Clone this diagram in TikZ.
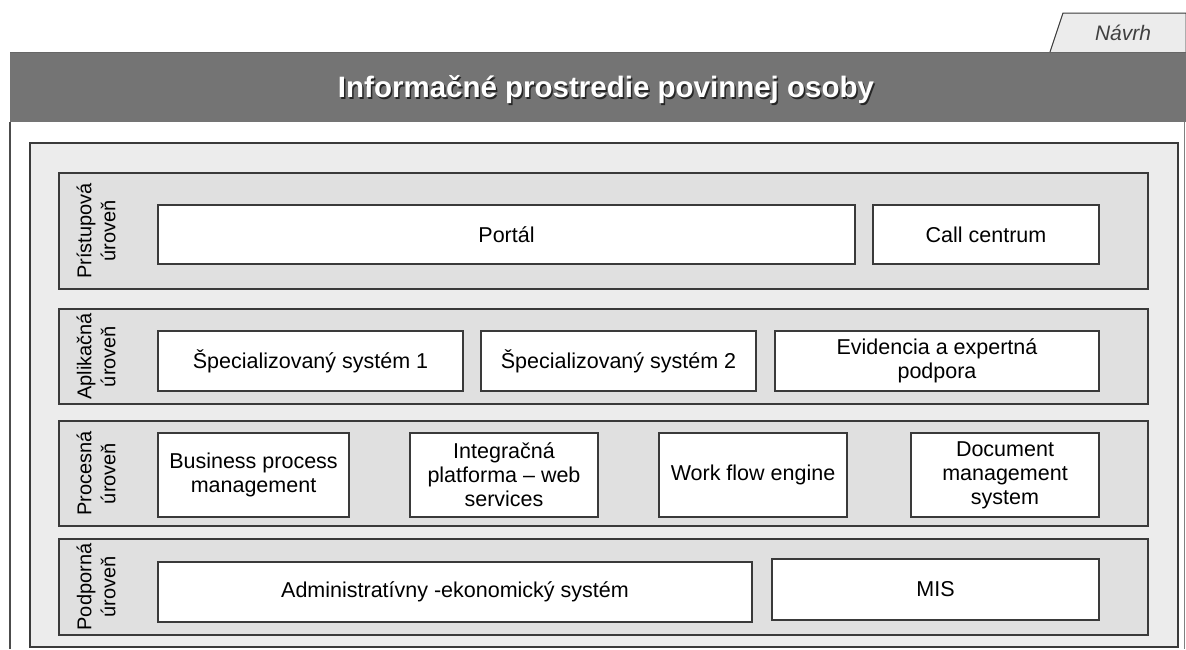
\documentclass[tikz,border=0pt]{standalone}
\usepackage{fontspec}
\setmainfont{Liberation Sans}
\usepackage{tikz}
\usetikzlibrary{positioning}

\definecolor{barfill}{HTML}{747474}
\definecolor{outerfill}{HTML}{ECECEC}
\definecolor{layerfill}{HTML}{E0E0E0}
\definecolor{edge}{HTML}{3A3A3A}

\begin{document}
\begin{tikzpicture}[x=1pt,y=-1pt,
  layer/.style={draw=edge, fill=layerfill, line width=1.1pt, inner sep=0pt},
  box/.style={draw=edge, fill=white, line width=1.1pt, inner sep=2pt, align=center,
    text=black, font=\fontsize{21.5}{24}\selectfont},
  lbl/.style={rotate=90, align=center, text=black, font=\fontsize{20}{24}\selectfont}]

  \useasboundingbox (0,0) rectangle (1186,649);

  % tab and header bar
  \draw[draw=edge, fill=outerfill, line width=1pt] (1050,52) -- (1063,13) -- (1186,13) -- (1186,52);
  \node (navrh) at (1123,33) {\fontsize{21}{24}\selectfont\itshape\color{black!75}Návrh};
  \fill[barfill] (10,52) rectangle (1186,122);
  \draw[black!60, line width=1pt] (10,52) -- (1186,52);
  \node[text=black!85] (titleshadow) at (607.5,91.5) {\fontsize{29.5}{32}\selectfont\bfseries Informačné prostredie povinnej osoby};
  \node[text=white] (title) at (606,90) {\fontsize{29.5}{32}\selectfont\bfseries Informačné prostredie povinnej osoby};

  % white panel and gray frame
  \draw[black!70, line width=1.2pt] (10,122) -- (10,649);
  \draw[black!50, line width=0.8pt] (1184,122) -- (1184,649);
  \draw[draw=edge, fill=outerfill, line width=1.2pt] (30,143) rectangle (1178,647);

  % layers
  \node[layer, minimum width=1089pt, minimum height=116pt] (pristup) at (603.5,231) {};
  \node[layer, minimum width=1089pt, minimum height=95pt] (aplik) at (603.5,356.5) {};
  \node[layer, minimum width=1089pt, minimum height=105pt] (proces) at (603.5,473.5) {};
  \node[layer, minimum width=1089pt, minimum height=96pt] (podpor) at (603.5,587) {};

  \node[lbl] (pristuplbl) at (96,231) {Prístupová\\úroveň};
  \node[lbl] (apliklbl) at (96,356.5) {Aplikačná\\úroveň};
  \node[lbl] (proceslbl) at (96,473.5) {Procesná\\úroveň};
  \node[lbl] (podporlbl) at (96,587) {Podporná\\úroveň};

  % pristupova uroven
  \node[box, minimum width=697pt, minimum height=59pt] (portal) at (506.5,234.5) {Portál};
  \node[box, minimum width=226pt, minimum height=59pt] (callc) at (986,234.5) {Call centrum};

  % aplikacna uroven
  \node[box, minimum width=305pt, minimum height=60pt] (spec1) at (310.5,361) {Špecializovaný systém 1};
  \node[box, minimum width=275pt, minimum height=60pt] (spec2) at (618.5,361) {Špecializovaný systém 2};
  \node[box, minimum width=324pt, minimum height=60pt] (evid) at (937,361) {Evidencia a expertná\\podpora};

  % procesna uroven
  \node[box, minimum width=191pt, minimum height=84pt] (bpm) at (253.5,475) {Business process\\management};
  \node[box, minimum width=188pt, minimum height=84pt] (integ) at (504,475) {Integračná\\platforma -- web\\services};
  \node[box, minimum width=188pt, minimum height=84pt] (wfe) at (753,475) {Work flow engine};
  \node[box, minimum width=188pt, minimum height=84pt] (dms) at (1005,475) {Document\\management\\system};

  % podporna uroven
  \node[box, minimum width=594pt, minimum height=60pt] (admin) at (455,592) {Administratívny -ekonomický systém};
  \node[box, minimum width=327pt, minimum height=61pt] (mis) at (935.5,589.5) {MIS};

\end{tikzpicture}
\end{document}
